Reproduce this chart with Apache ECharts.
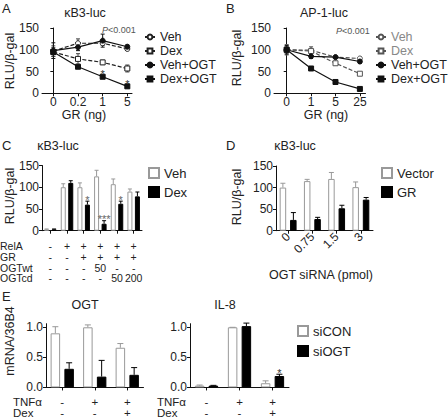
<!DOCTYPE html>
<html><head><meta charset="utf-8">
<script src="https://cdn.jsdelivr.net/npm/echarts@6/dist/echarts.min.js"></script>
<style>html,body{margin:0;padding:0;background:#fff}#c{width:448px;height:419px}</style>
</head><body><div id="c"></div>
<script>
// ---------- Panel A : kB3-luc vs GR ----------
const aCats = ['0', '0.2', '1', '5'];
const aVeh = [97, 115, 115, 102];
const aVehErr = [12, 10, 5, 4];
const aDex = [95, 79, 71, 57];
const aDexErr = [10, 12, 5, 8];
const aVehOGT = [98, 106, 121, 107];
const aVehOGTErr = [18, 8, 15, 4];
const aDexOGT = [95, 61, 38, 16];
const aDexOGTErr = [5, 3, 3, 3];
const aDexOGTStars = ['', '', '*', '*'];

// ---------- Panel B : AP-1-luc vs GR ----------
const bCats = ['0', '1', '5', '25'];
const bVeh = [100, 99, 83, 80];
const bVehErr = [12, 8, 3, 3];
const bDex = [100, 97, 69, 45];
const bDexErr = [8, 4, 4, 4];
const bVehOGT = [100, 85, 83, 73];
const bVehOGTErr = [10, 5, 3, 4];
const bDexOGT = [100, 57, 26, 10];
const bDexOGTErr = [6, 2, 5, 2];

// ---------- Panel C : kB3-luc bars ----------
const cRelA = ['-', '+', '+', '+', '+', '+'];
const cGR = ['-', '-', '+', '+', '+', '+'];
const cOGTwt = ['-', '-', '-', '50', '-', '-'];
const cOGTcd = ['-', '-', '-', '-', '50', '200'];
const cVeh = [3, 100, 100, 125, 107, 90];
const cVehErr = [1, 8, 10, 14, 12, 6];
const cDex = [3, 110, 60, 16, 62, 79];
const cDexErr = [1, 5, 8, 7, 6, 10];
const cDexStars = ['', '', '*', '***', '*', ''];

// ---------- Panel D : OGT siRNA ----------
const dCats = ['0', '0.75', '1.5', '3'];
const dVector = [100, 115, 120, 101];
const dVectorErr = [10, 4, 15, 12];
const dGR = [25, 27, 52, 72];
const dGRErr = [17, 4, 7, 5];

// ---------- Panel E : mRNA/36B4 ----------
const eTNF = ['-', '+', '+'];
const eDex = ['-', '-', '+'];
const eOgtCON = [0.90, 1.00, 0.66];
const eOgtCONErr = [0.11, 0.04, 0.07];
const eOgtOGT = [0.31, 0.18, 0.21];
const eOgtOGTErr = [0.10, 0.27, 0.12];
const eIlCON = [0.03, 1.00, 0.07];
const eIlCONErr = [0.01, 0.0, 0.04];
const eIlOGT = [0.03, 1.02, 0.19];
const eIlOGTErr = [0.005, 0.05, 0.03];
const eIlOGTStars = ['', '', '*'];

const FF = '"Liberation Sans", Arial, Helvetica, sans-serif';
const TXT = '#222';

function lineSeries(name, gi, data, dashed, filled, shape, color) {
  return {
    name, type: 'line', xAxisIndex: gi, yAxisIndex: gi,
    data: data.map((v, i) => [i, v]),
    symbol: shape, symbolSize: 5,
    lineStyle: { color, width: 1.2, type: dashed ? [4, 2] : 'solid' },
    itemStyle: { color: filled ? color : '#fff', borderColor: color, borderWidth: 1 },
    z: 4, animation: false
  };
}
function barSeries(name, gi, data, fill, border, width, gap) {
  return {
    name, type: 'bar', xAxisIndex: gi, yAxisIndex: gi, data,
    barWidth: width, barGap: gap,
    itemStyle: { color: fill, borderColor: border, borderWidth: 1 },
    z: 2, animation: false
  };
}
function errSeries(gi, vals, errs, o) {
  return {
    type: 'custom', xAxisIndex: gi, yAxisIndex: gi, z: o.z || 3, silent: true, animation: false,
    data: vals.map((v, i) => [i, o.both ? v - errs[i] : v, v + errs[i]]),
    renderItem(params, api) {
      const x = api.value(0);
      const lo = api.coord([x, api.value(1)]);
      const hi = api.coord([x, api.value(2)]);
      const cx = lo[0] + (o.dx || 0);
      const cap = o.cap || 2;
      const st = { stroke: o.color, lineWidth: 1 };
      const ch = [
        { type: 'line', shape: { x1: cx, y1: lo[1], x2: cx, y2: hi[1] }, style: st },
        { type: 'line', shape: { x1: cx - cap, y1: hi[1], x2: cx + cap, y2: hi[1] }, style: st }
      ];
      if (o.both) ch.push({ type: 'line', shape: { x1: cx - cap, y1: lo[1], x2: cx + cap, y2: lo[1] }, style: st });
      const s = o.stars && o.stars[params.dataIndex];
      if (s) ch.push({ type: 'text', style: { text: s, x: cx, y: hi[1] + (o.starOff || 0), align: 'center', verticalAlign: 'bottom', fill: o.starColor || '#333', font: '11px ' + FF } });
      return { type: 'group', children: ch };
    }
  };
}

const TICKF = 12;
const axLine = { lineStyle: { color: '#111', width: 1 } };
const axTickY = { show: true, length: 3, lineStyle: { color: '#111' } };
function yAx150(gi) {
  return { type: 'value', gridIndex: gi, min: 0, max: 150, interval: 50,
    axisLine: { show: true, ...axLine }, axisTick: axTickY, splitLine: { show: false },
    axisLabel: { fontSize: TICKF, color: TXT, margin: 3, fontFamily: FF } };
}
function yAxE(gi) {
  return { type: 'value', gridIndex: gi, min: 0, max: 1.06,
    axisLine: { show: true, ...axLine }, splitLine: { show: false },
    axisTick: { show: true, length: 3, lineStyle: { color: '#111' }, customValues: [0, 0.5, 1] },
    axisLabel: { fontSize: TICKF, color: TXT, margin: 3, fontFamily: FF, customValues: [0, 0.5, 1], formatter: v => v.toFixed(1) } };
}
function xValAx(gi, cats, min, max) {
  const cv = cats.map((c, i) => i);
  return { type: 'value', gridIndex: gi, min, max,
    axisLine: { show: true, onZero: false, ...axLine }, splitLine: { show: false },
    axisTick: { show: true, length: 3, lineStyle: { color: '#111' }, customValues: cv },
    axisLabel: { fontSize: TICKF, color: TXT, margin: 3, fontFamily: FF, customValues: cv, formatter: v => cats[Math.round(v)] } };
}
function xCatAx(gi, data, label) {
  return { type: 'category', gridIndex: gi, data,
    axisLine: { show: true, ...axLine },
    axisTick: { show: true, length: 3, alignWithLabel: true, interval: 0, lineStyle: { color: '#111' } },
    axisLabel: Object.assign({ fontSize: TICKF, color: TXT, fontFamily: FF, interval: 0, hideOverlap: false }, label) };
}

const option = {
  backgroundColor: '#fff',
  animation: false,
  textStyle: { fontFamily: FF },
  grid: [
    { left: 42, top: 28, width: 90, height: 65.3 },
    { left: 274, top: 28, width: 91.5, height: 65.3 },
    { left: 42, top: 165.5, width: 100, height: 65.2 },
    { left: 276, top: 166, width: 97, height: 64.7 },
    { left: 46, top: 323.7, width: 97.5, height: 63.8 },
    { left: 190, top: 323.7, width: 99, height: 63.8 }
  ],
  xAxis: [
    xValAx(0, aCats, -0.46, 3.19),
    xValAx(1, bCats, -0.52, 3.23),
    xCatAx(2, cRelA.map((c, i) => String(i)), { margin: 10, lineHeight: 10.8, fontSize: 10.5,
      formatter: (v, i) => [cRelA[i], cGR[i], cOGTwt[i], cOGTcd[i]].join('\n') }),
    xCatAx(3, dCats, { margin: 4, rotate: 45 }),
    xCatAx(4, eTNF.map((c, i) => String(i)), { margin: 8.3, lineHeight: 11.5, fontSize: 11.5,
      formatter: (v, i) => [eTNF[i], eDex[i]].join('\n') }),
    xCatAx(5, eTNF.map((c, i) => String(i)), { margin: 8.3, lineHeight: 11.5, fontSize: 11.5,
      formatter: (v, i) => [eTNF[i], eDex[i]].join('\n') })
  ],
  yAxis: [yAx150(0), yAx150(1), yAx150(2), yAx150(3), yAxE(4), yAxE(5)],
  legend: [
    { left: 144, top: 30, orient: 'vertical', padding: 0, itemGap: 0, itemWidth: 10, itemHeight: 6, selectedMode: false,
      textStyle: { fontSize: 12.5, lineHeight: 14, color: TXT },
      data: ['A:Veh', 'A:Dex', 'A:Veh+OGT', 'A:Dex+OGT'], formatter: n => n.slice(2) },
    { left: 375, top: 30, orient: 'vertical', padding: 0, itemGap: 0, itemWidth: 10, itemHeight: 6, selectedMode: false,
      textStyle: { fontSize: 12.5, lineHeight: 14, color: TXT },
      data: [{ name: 'B:Veh', textStyle: { color: '#888' } }, { name: 'B:Dex', textStyle: { color: '#888' } }, 'B:Veh+OGT', 'B:Dex+OGT'],
      formatter: n => n.slice(2) },
    { left: 148, top: 166.5, orient: 'vertical', padding: 0, itemGap: 6, itemWidth: 10, itemHeight: 10, icon: 'rect', selectedMode: false,
      textStyle: { fontSize: 13, lineHeight: 13, color: TXT },
      data: ['C:Veh', 'C:Dex'], formatter: n => n.slice(2) },
    { left: 381, top: 166.5, orient: 'vertical', padding: 0, itemGap: 6, itemWidth: 10, itemHeight: 10, icon: 'rect', selectedMode: false,
      textStyle: { fontSize: 13, lineHeight: 13, color: TXT },
      data: ['D:Vector', 'D:GR'], formatter: n => n.slice(2) },
    { left: 297, top: 324.5, orient: 'vertical', padding: 0, itemGap: 7, itemWidth: 10, itemHeight: 10, icon: 'rect', selectedMode: false,
      textStyle: { fontSize: 13, lineHeight: 13, color: TXT },
      data: ['E:siCON', 'E:siOGT'], formatter: n => n.slice(2) }
  ],
  series: [
    // A
    errSeries(0, aVeh, aVehErr, { both: true, color: '#444' }),
    errSeries(0, aDex, aDexErr, { both: true, color: '#444' }),
    errSeries(0, aVehOGT, aVehOGTErr, { both: true, color: '#111' }),
    errSeries(0, aDexOGT, aDexOGTErr, { both: true, color: '#111', stars: aDexOGTStars, starOff: 4 }),
    lineSeries('A:Veh', 0, aVeh, true, false, 'circle', '#222'),
    lineSeries('A:Dex', 0, aDex, true, false, 'rect', '#222'),
    lineSeries('A:Veh+OGT', 0, aVehOGT, false, true, 'circle', '#111'),
    lineSeries('A:Dex+OGT', 0, aDexOGT, false, true, 'rect', '#111'),
    // B
    errSeries(1, bVeh, bVehErr, { both: true, color: '#666' }),
    errSeries(1, bDex, bDexErr, { both: true, color: '#666' }),
    errSeries(1, bVehOGT, bVehOGTErr, { both: true, color: '#111' }),
    errSeries(1, bDexOGT, bDexOGTErr, { both: true, color: '#111' }),
    lineSeries('B:Veh', 1, bVeh, true, false, 'circle', '#555'),
    lineSeries('B:Dex', 1, bDex, true, false, 'rect', '#555'),
    lineSeries('B:Veh+OGT', 1, bVehOGT, false, true, 'circle', '#111'),
    lineSeries('B:Dex+OGT', 1, bDexOGT, false, true, 'rect', '#111'),
    // C
    barSeries('C:Veh', 2, cVeh, '#fff', '#999', 5, '50%'),
    barSeries('C:Dex', 2, cDex, '#000', '#000', 5, '50%'),
    errSeries(2, cVeh, cVehErr, { dx: -3.75, color: '#999', cap: 2 }),
    errSeries(2, cDex, cDexErr, { dx: 3.75, color: '#000', cap: 2, stars: cDexStars, starColor: '#666', starOff: 4 }),
    // D
    barSeries('D:Vector', 3, dVector, '#fff', '#999', 6.5, '60%'),
    barSeries('D:GR', 3, dGR, '#000', '#000', 6.5, '60%'),
    errSeries(3, dVector, dVectorErr, { dx: -5.25, color: '#999', cap: 2.5 }),
    errSeries(3, dGR, dGRErr, { dx: 5.25, color: '#000', cap: 2.5 }),
    // E OGT
    barSeries('E:siCON', 4, eOgtCON, '#fff', '#999', 9.5, '45%'),
    barSeries('E:siOGT', 4, eOgtOGT, '#000', '#000', 9.5, '45%'),
    errSeries(4, eOgtCON, eOgtCONErr, { dx: -6.9, color: '#999', cap: 3 }),
    errSeries(4, eOgtOGT, eOgtOGTErr, { dx: 6.9, color: '#000', cap: 3 }),
    // E IL-8
    barSeries('E2:siCON', 5, eIlCON, '#fff', '#999', 9.5, '45%'),
    barSeries('E2:siOGT', 5, eIlOGT, '#000', '#000', 9.5, '45%'),
    errSeries(5, eIlCON, eIlCONErr, { dx: -6.9, color: '#999', cap: 3 }),
    errSeries(5, eIlOGT, eIlOGTErr, { dx: 6.9, color: '#000', cap: 3, stars: eIlOGTStars, starColor: '#333', starOff: 4 })
  ],
  graphic: [
    ...[['A', 2, 8], ['B', 226, 8], ['C', 2, 145], ['D', 226, 145], ['E', 2, 296]].map(([t, x, y]) => ({
      type: 'text', x, y, style: { text: t, font: '13px ' + FF, fill: TXT, verticalAlign: 'middle' } })),
    ...[['κB3-luc', 85, 13], ['AP-1-luc', 324, 13], ['κB3-luc', 58, 146], ['κB3-luc', 295, 146], ['OGT', 85, 305], ['IL-8', 225, 305]].map(([t, x, y]) => ({
      type: 'text', x, y, style: { text: t, font: '12.5px ' + FF, fill: TXT, align: 'center', verticalAlign: 'middle' } })),
    ...[['RLU/β-gal', 10, 61], ['RLU/β-gal', 237, 58], ['RLU/β-gal', 10, 196], ['RLU/β-gal', 237, 197], ['mRNA/36B4', 10, 341]].map(([t, x, y]) => ({
      type: 'text', x, y, rotation: Math.PI / 2, style: { text: t, font: '12.5px ' + FF, fill: TXT, align: 'center', verticalAlign: 'middle' } })),
    ...[['GR (ng)', 84, 115], ['GR (ng)', 326, 115], ['OGT siRNA (pmol)', 321, 275]].map(([t, x, y]) => ({
      type: 'text', x, y, style: { text: t, font: '12.5px ' + FF, fill: TXT, align: 'center', verticalAlign: 'middle' } })),
    ...[[102, 30], [336, 31]].map(([x, y]) => ({
      type: 'text', x, y, style: { text: '{i|P}<0.001', font: '9px ' + FF, fill: '#555', verticalAlign: 'middle',
        rich: { i: { fontStyle: 'italic', fontSize: 9, fill: '#555' } } } })),
    { type: 'text', x: 0, y: 240.6, style: { text: 'RelA\nGR\nOGTwt\nOGTcd', font: '10.5px ' + FF, lineHeight: 10.8, fill: TXT, verticalAlign: 'top' } },
    { type: 'text', x: 13, y: 395.75, style: { text: 'TNFα\nDex', font: '11.5px ' + FF, lineHeight: 11.5, fill: TXT, verticalAlign: 'top' } },
    { type: 'text', x: 157, y: 395.75, style: { text: 'TNFα\nDex', font: '11.5px ' + FF, lineHeight: 11.5, fill: TXT, verticalAlign: 'top' } }
  ]
};

const chart = echarts.init(document.getElementById('c'), null, { renderer: 'svg', width: 448, height: 419 });
chart.setOption(option);
</script>
</body></html>
